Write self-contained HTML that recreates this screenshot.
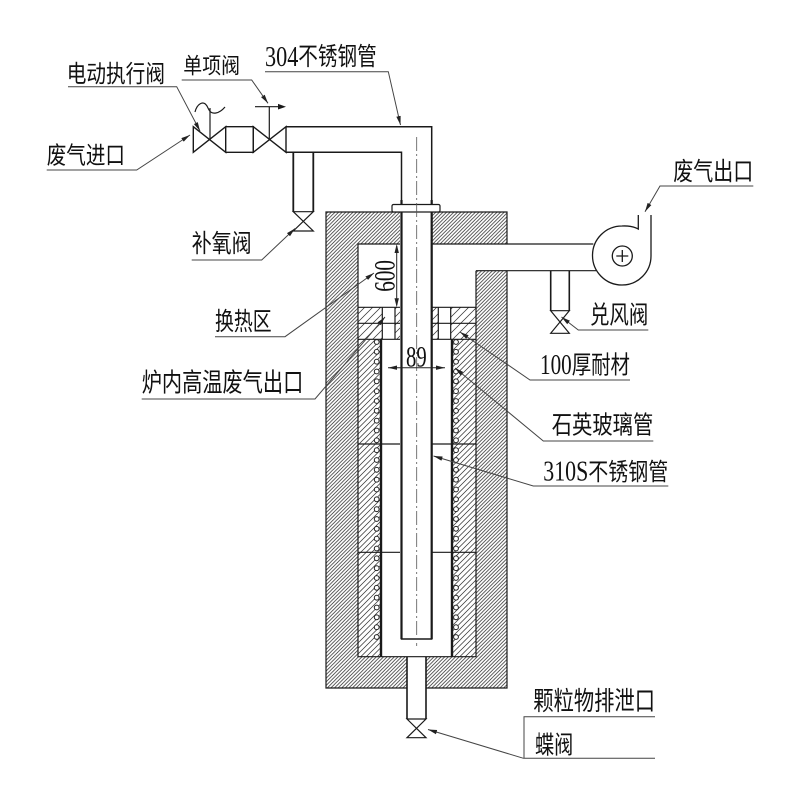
<!DOCTYPE html>
<html><head><meta charset="utf-8">
<style>
html,body{margin:0;padding:0;background:#fff;}
svg{display:block;}
.cj{font-family:"Liberation Sans","Noto Sans CJK SC",sans-serif;fill:#111;}
.dg{font-family:"Liberation Serif",serif;fill:#111;}
</style></head><body>
<svg width="800" height="800" viewBox="0 0 800 800" xmlns="http://www.w3.org/2000/svg">
<defs>
<pattern id="h1" patternUnits="userSpaceOnUse" width="3.6" height="3.6">
<path d="M-1,1 L1,-1 M0,3.6 L3.6,0 M2.6,4.6 L4.6,2.6" stroke="#333" stroke-width="0.75"/>
</pattern>
<pattern id="h2" patternUnits="userSpaceOnUse" width="5.5" height="5.5">
<path d="M-1,1 L1,-1 M0,5.5 L5.5,0 M4.5,6.5 L6.5,4.5" stroke="#333" stroke-width="0.75"/>
</pattern>
<pattern id="h3" patternUnits="userSpaceOnUse" width="8" height="8">
<path d="M-1,1 L1,-1 M0,8 L8,0 M7,9 L9,7" stroke="#333" stroke-width="0.75"/>
</pattern>
<marker id="ar" markerUnits="userSpaceOnUse" markerWidth="10" markerHeight="6" refX="9" refY="3" orient="auto">
<path d="M0,0.8 L9,3 L0,5.2 z" fill="#222"/>
</marker>
</defs>

<!-- furnace outer hatch -->
<rect x="326" y="212" width="181" height="476" fill="url(#h1)"/>
<!-- white-outs -->
<rect x="400" y="212" width="32" height="32" fill="#fff"/>
<rect x="358" y="244" width="118" height="412.7" fill="#fff"/>
<rect x="476" y="244" width="32" height="26.7" fill="#fff"/>
<rect x="407" y="656" width="19" height="33" fill="#fff"/>

<!-- inner refractory layers -->
<rect x="358" y="339.3" width="23" height="317.4" fill="url(#h2)"/>
<rect x="452" y="339.3" width="24" height="317.4" fill="url(#h2)"/>
<!-- heat exchange blocks -->
<rect x="358" y="307.3" width="24.3" height="32" fill="url(#h3)"/>
<rect x="395" y="307.3" width="5" height="32" fill="url(#h3)"/>
<rect x="432" y="307.3" width="6.3" height="32" fill="url(#h3)"/>
<rect x="450.7" y="307.3" width="25.3" height="32" fill="url(#h3)"/>

<!-- outlines -->
<g fill="none" stroke="#1a1a1a" stroke-width="1.2">
<path d="M507,270.7 V688 H426 M407,688 H326 V212 H400 M432,212 H507 V244"/>
<path d="M400,244 H358 V656.7 H476 V270.7"/>
<path d="M432,244 H593.3 M476,270.7 H596"/>
<path d="M358,307.3 H400 M432,307.3 H476 M358,323.3 H400 M432,323.3 H476 M358,339.3 H400 M432,339.3 H476"/>
<path d="M382.3,307.3 V339.3 M395,307.3 V339.3 M438.3,307.3 V339.3 M450.7,307.3 V339.3"/>
<path d="M358,444 H400 M432,444 H476 M358,552.3 H400 M432,552.3 H476"/>
</g>
<!-- quartz tube walls -->
<path d="M381,339.3 V656.7 M452,339.3 V656.7" stroke="#1a1a1a" stroke-width="2.4" fill="none"/>

<!-- coils -->
<g fill="#fff" stroke="#222" stroke-width="1">
<circle cx="376.7" cy="342" r="2.4"/><circle cx="456" cy="342" r="2.4"/>
<circle cx="376.7" cy="351.8" r="2.4"/><circle cx="456" cy="351.8" r="2.4"/>
<circle cx="376.7" cy="361.7" r="2.4"/><circle cx="456" cy="361.7" r="2.4"/>
<circle cx="376.7" cy="371.5" r="2.4"/><circle cx="456" cy="371.5" r="2.4"/>
<circle cx="376.7" cy="381.3" r="2.4"/><circle cx="456" cy="381.3" r="2.4"/>
<circle cx="376.7" cy="391.2" r="2.4"/><circle cx="456" cy="391.2" r="2.4"/>
<circle cx="376.7" cy="401" r="2.4"/><circle cx="456" cy="401" r="2.4"/>
<circle cx="376.7" cy="410.8" r="2.4"/><circle cx="456" cy="410.8" r="2.4"/>
<circle cx="376.7" cy="420.7" r="2.4"/><circle cx="456" cy="420.7" r="2.4"/>
<circle cx="376.7" cy="430.5" r="2.4"/><circle cx="456" cy="430.5" r="2.4"/>
<circle cx="376.7" cy="440.3" r="2.4"/><circle cx="456" cy="440.3" r="2.4"/>
<circle cx="376.7" cy="450.2" r="2.4"/><circle cx="456" cy="450.2" r="2.4"/>
<circle cx="376.7" cy="460" r="2.4"/><circle cx="456" cy="460" r="2.4"/>
<circle cx="376.7" cy="469.8" r="2.4"/><circle cx="456" cy="469.8" r="2.4"/>
<circle cx="376.7" cy="479.7" r="2.4"/><circle cx="456" cy="479.7" r="2.4"/>
<circle cx="376.7" cy="489.5" r="2.4"/><circle cx="456" cy="489.5" r="2.4"/>
<circle cx="376.7" cy="499.3" r="2.4"/><circle cx="456" cy="499.3" r="2.4"/>
<circle cx="376.7" cy="509.2" r="2.4"/><circle cx="456" cy="509.2" r="2.4"/>
<circle cx="376.7" cy="519" r="2.4"/><circle cx="456" cy="519" r="2.4"/>
<circle cx="376.7" cy="528.8" r="2.4"/><circle cx="456" cy="528.8" r="2.4"/>
<circle cx="376.7" cy="538.7" r="2.4"/><circle cx="456" cy="538.7" r="2.4"/>
<circle cx="376.7" cy="548.5" r="2.4"/><circle cx="456" cy="548.5" r="2.4"/>
<circle cx="376.7" cy="558.3" r="2.4"/><circle cx="456" cy="558.3" r="2.4"/>
<circle cx="376.7" cy="568.2" r="2.4"/><circle cx="456" cy="568.2" r="2.4"/>
<circle cx="376.7" cy="578" r="2.4"/><circle cx="456" cy="578" r="2.4"/>
<circle cx="376.7" cy="587.8" r="2.4"/><circle cx="456" cy="587.8" r="2.4"/>
<circle cx="376.7" cy="597.7" r="2.4"/><circle cx="456" cy="597.7" r="2.4"/>
<circle cx="376.7" cy="607.5" r="2.4"/><circle cx="456" cy="607.5" r="2.4"/>
<circle cx="376.7" cy="617.3" r="2.4"/><circle cx="456" cy="617.3" r="2.4"/>
<circle cx="376.7" cy="627.2" r="2.4"/><circle cx="456" cy="627.2" r="2.4"/>
<circle cx="376.7" cy="637" r="2.4"/><circle cx="456" cy="637" r="2.4"/>
</g>

<!-- main pipe -->
<rect x="401.5" y="126.7" width="30.2" height="512.3" fill="#fff"/>
<rect x="286" y="126.7" width="116" height="25.6" fill="#fff"/>
<path d="M286,126.7 H431.7 V639 H401.5 V152.3 H286" fill="none" stroke="#1a1a1a" stroke-width="1.5"/>
<path d="M401.5,200 V639 M431.7,200 V639" fill="none" stroke="#1a1a1a" stroke-width="2.2"/>
<!-- flange -->
<rect x="392" y="204.5" width="48" height="7.5" rx="1.5" fill="#fff" stroke="#1a1a1a" stroke-width="1.2"/>
<!-- centerline -->
<path d="M416.7,137 V646" stroke="#555" stroke-width="0.8" stroke-dasharray="14,3,2,3" fill="none"/>

<!-- discharge pipe & butterfly valve -->
<g fill="none" stroke="#1a1a1a" stroke-width="1.6">
<path d="M407,656.7 V719 M426,656.7 V719"/>
<path d="M407,719 L426,737.7 H407 L426,719 Z" stroke-width="1.2"/>
</g>

<!-- inlet valves -->
<g fill="none" stroke="#1a1a1a" stroke-width="1.4">
<path d="M193.3,126.7 L225.7,152.3 L225.7,126.7 L193.3,152.3 Z"/>
<path d="M225.7,126.7 H253.3 V152.3 H225.7"/>
<path d="M253.3,126.7 L286,152.3 L286,126.7 L253.3,152.3 Z"/>
<path d="M210,139.5 V108" stroke-width="1.2"/>
<path d="M195,112 C197,104 203,100 207,106 L209,110 C212,115 219,114 225,107" stroke-width="1.2"/>
<path d="M269.3,139.5 V106.7 M255,106.7 H279" stroke-width="1.2"/>
</g>
<polygon points="278,103.9 286,106.7 278,109.5" fill="#1a1a1a"/>

<!-- O2 supplement branch -->
<g fill="none" stroke="#1a1a1a" stroke-width="1.8">
<path d="M293.3,152.3 V211.7 M313.3,152.3 V211.7"/>
<path d="M293.3,211.7 L313.3,231 H293.3 L313.3,211.7 Z" stroke-width="1.2"/>
</g>

<!-- dilution air branch -->
<g fill="none" stroke="#1a1a1a" stroke-width="1.6">
<path d="M550.7,270.7 V310.7 M569.3,270.7 V310.7"/>
<path d="M550.7,310.7 L569.3,333.3 H550.7 L569.3,310.7 Z" stroke-width="1.2"/>
</g>

<!-- fan -->
<g fill="none" stroke="#1a1a1a" stroke-width="1.3">
<path d="M638.3,215 V229 Q632,225.5 622,226 A29.5,29.5 0 0 0 622,285 A29,29 0 0 0 651,256 V215"/>
<circle cx="622.3" cy="256" r="10"/>
<path d="M616.3,256 H628.3 M622.3,250 V262"/>
</g>

<!-- dimensions -->
<g stroke="#222" stroke-width="1" fill="none">
<path d="M396.7,246 V305.3"/>
<path d="M388,367.7 H445"/>
</g>
<polygon points="396.7,244 394.5,253 398.9,253" fill="#222"/>
<polygon points="396.7,307.3 394.5,298.3 398.9,298.3" fill="#222"/>
<polygon points="388,367.7 397,365.5 397,369.9" fill="#222"/>
<polygon points="445,367.7 436,365.5 436,369.9" fill="#222"/>
<text class="dg" font-size="30" transform="translate(394.5,291.7) rotate(-90)" textLength="31.7" lengthAdjust="spacingAndGlyphs">600</text>
<text class="dg" x="406" y="366.5" font-size="30" textLength="20.7" lengthAdjust="spacingAndGlyphs">89</text>

<!-- leader lines -->
<g fill="none" stroke="#444" stroke-width="1">
<path d="M68,86.7 H176.7 L200,131" marker-end="url(#ar)"/>
<path d="M181.7,80 H251.7 L268,103.3" marker-end="url(#ar)"/>
<path d="M265,71.7 H388.3 L400.5,125" marker-end="url(#ar)"/>
<path d="M46.7,170 H136.7 L190,135" marker-end="url(#ar)"/>
<path d="M191.7,260 H261.7 L295,228.5" marker-end="url(#ar)"/>
<path d="M753.3,186 H660 L645,211.7" marker-end="url(#ar)"/>
<path d="M648.3,330 H578.3 L561.5,317" marker-end="url(#ar)"/>
<path d="M215,336.7 H285 L374,273" marker-end="url(#ar)"/>
<path d="M141.7,399 H315 L385,317" marker-end="url(#ar)"/>
<path d="M630,380 H530 L460,332" marker-end="url(#ar)"/>
<path d="M653.3,441 H543.3 L455,368" marker-end="url(#ar)"/>
<path d="M668.3,486 H533.3 L433.5,456" marker-end="url(#ar)"/>
<path d="M655,716.7 H524 V758.3 H655"/>
<path d="M523.5,758.3 L428,729.5" marker-end="url(#ar)"/>
</g>

<!-- labels -->
<text class="cj" x="66.7" y="81.8" font-size="24" textLength="98.3" lengthAdjust="spacingAndGlyphs">电动执行阀</text>
<text class="cj" x="183.3" y="73.6" font-size="22" textLength="56.7" lengthAdjust="spacingAndGlyphs">单项阀</text>
<text class="dg" x="265" y="66" font-size="29" textLength="33.3" lengthAdjust="spacingAndGlyphs">304</text>
<text class="cj" x="298.3" y="65.2" font-size="25" textLength="78.4" lengthAdjust="spacingAndGlyphs">不锈钢管</text>
<text class="cj" x="46.7" y="163.5" font-size="24" textLength="78.3" lengthAdjust="spacingAndGlyphs">废气进口</text>
<text class="cj" x="191.7" y="251.8" font-size="25" textLength="60" lengthAdjust="spacingAndGlyphs">补氧阀</text>
<text class="cj" x="673.3" y="180.2" font-size="25" textLength="80" lengthAdjust="spacingAndGlyphs">废气出口</text>
<text class="cj" x="590" y="323.5" font-size="25" textLength="58.3" lengthAdjust="spacingAndGlyphs">兑风阀</text>
<text class="cj" x="215" y="330.2" font-size="25" textLength="56.7" lengthAdjust="spacingAndGlyphs">换热区</text>
<text class="cj" x="141.7" y="391.6" font-size="26" textLength="161.6" lengthAdjust="spacingAndGlyphs">炉内高温废气出口</text>
<text class="dg" x="540" y="374" font-size="29" textLength="31.7" lengthAdjust="spacingAndGlyphs">100</text>
<text class="cj" x="571.7" y="373.5" font-size="25" textLength="58.3" lengthAdjust="spacingAndGlyphs">厚耐材</text>
<text class="cj" x="551.7" y="433.5" font-size="25" textLength="101.6" lengthAdjust="spacingAndGlyphs">石英玻璃管</text>
<text class="dg" x="543.3" y="480.5" font-size="29" textLength="45" lengthAdjust="spacingAndGlyphs">310S</text>
<text class="cj" x="588.3" y="480.2" font-size="24" textLength="80" lengthAdjust="spacingAndGlyphs">不锈钢管</text>
<text class="cj" x="533.3" y="710.2" font-size="26" textLength="121.7" lengthAdjust="spacingAndGlyphs">颗粒物排泄口</text>
<text class="cj" x="535" y="753.5" font-size="25" textLength="38.3" lengthAdjust="spacingAndGlyphs">蝶阀</text>
</svg>
</body></html>
